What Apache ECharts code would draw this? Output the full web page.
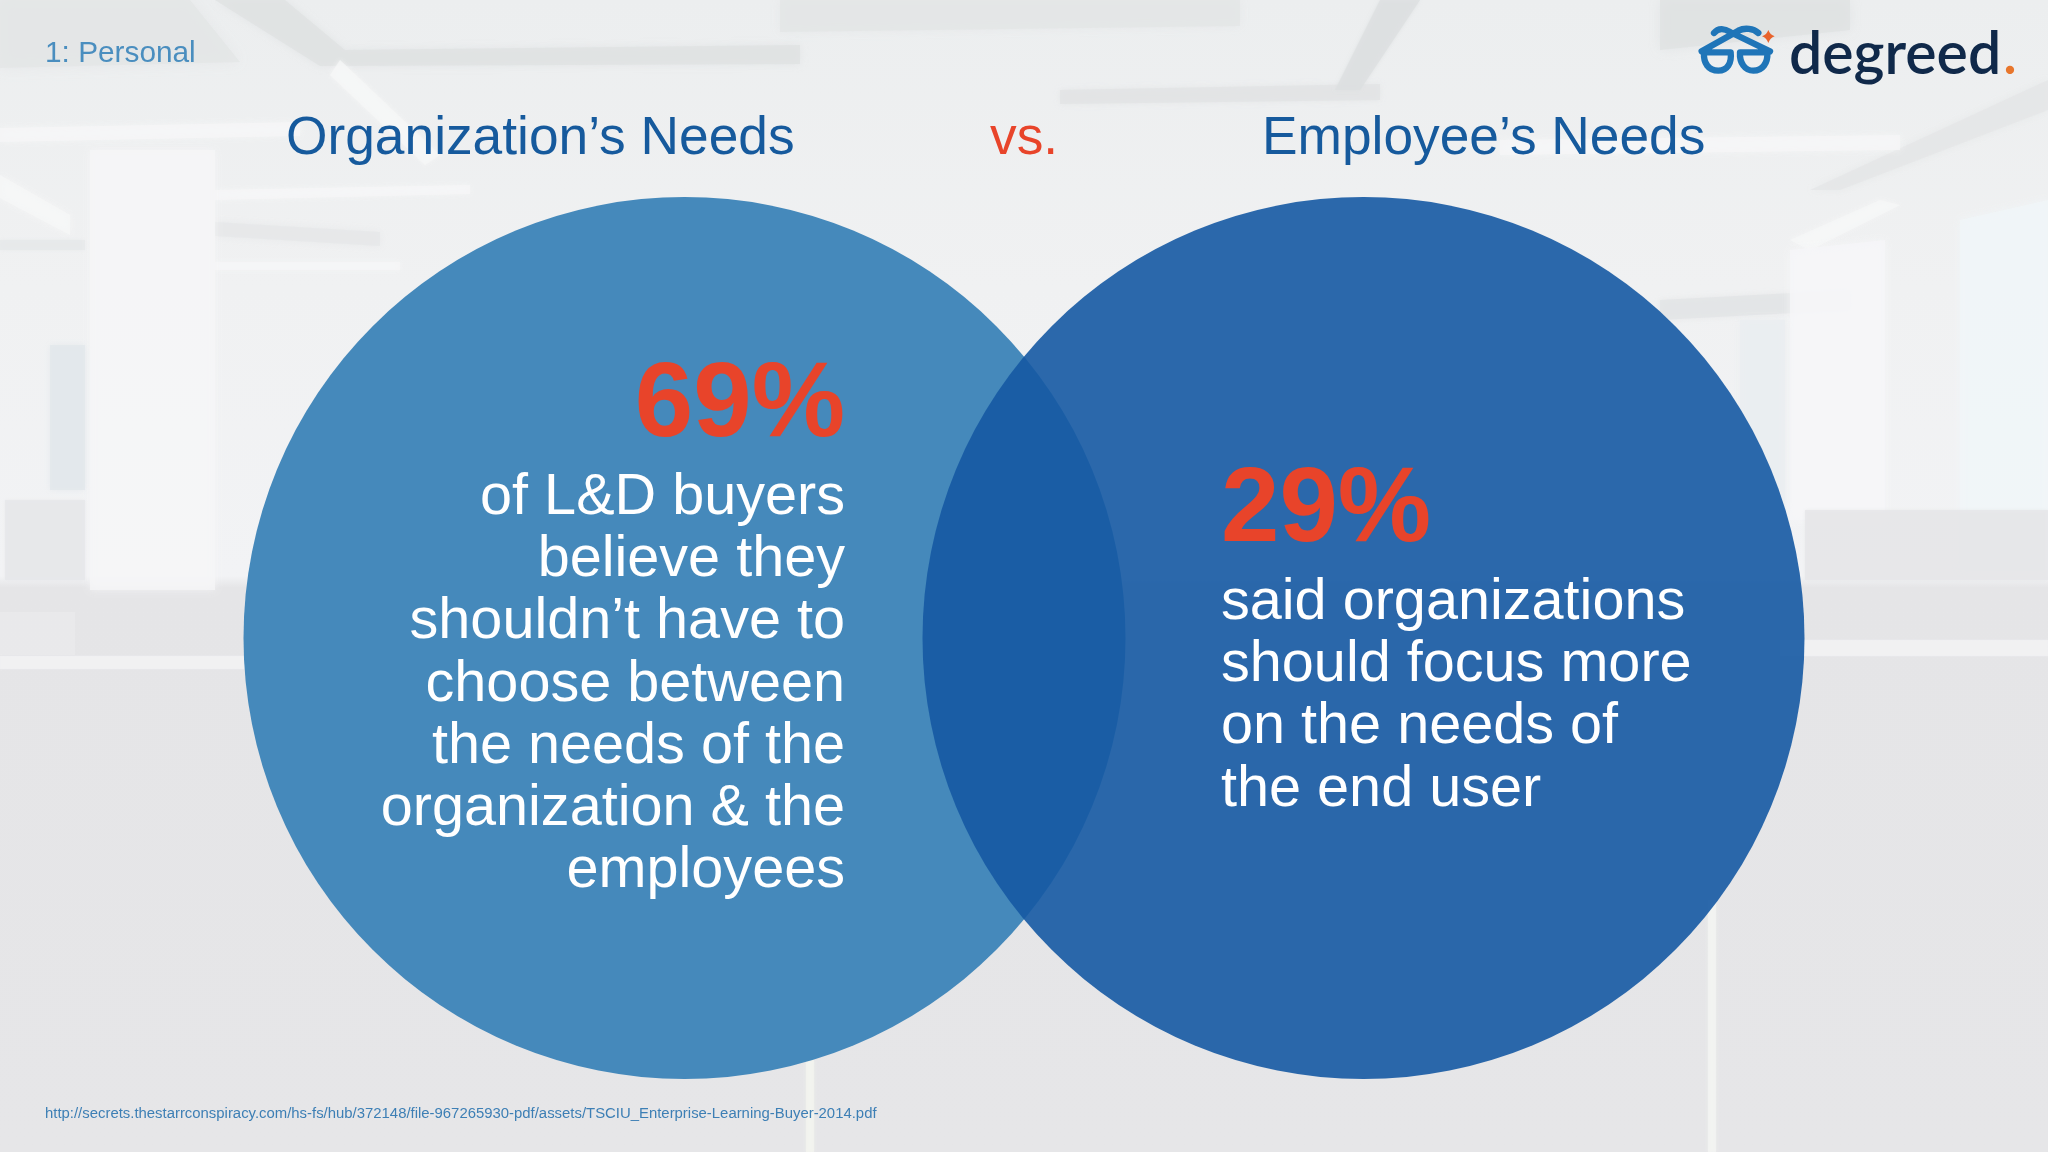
<!DOCTYPE html>
<html>
<head>
    <meta charset="utf-8">
    <title>Organization's Needs vs. Employee's Needs</title>
    <script src="https://cdn.jsdelivr.net/npm/echarts@6/dist/echarts.min.js"></script>
    <style>
        html, body, #main {
            width: 100%;
            height: 100%;
            margin: 0;
            background: #e8e9ea;
        }
    </style>
</head>
<body>
    <div id="main"></div>
    <script type="text/javascript">
        // chart data
        var categories = ['Organization\u2019s Needs', 'Employee\u2019s Needs'];
        var percents = [69, 29];
        var bodyLines = [
            ['of L&D buyers', 'believe they', 'shouldn\u2019t have to', 'choose between', 'the needs of the', 'organization & the', 'employees'],
            ['said organizations', 'should focus more', 'on the needs of', 'the end user']
        ];
        var vsLabel = 'vs.';
        var sectionLabel = '1: Personal';
        var sourceUrl = 'http://secrets.thestarrconspiracy.com/hs-fs/hub/372148/file-967265930-pdf/assets/TSCIU_Enterprise-Learning-Buyer-2014.pdf';
        var brandName = 'degreed';

        var FONT = '"Liberation Sans", Arial, sans-serif';

        // the graphic component has no plain path type, so the logo gets its own shapes
        echarts.graphic.registerShape('logoGlasses', echarts.graphic.extendShape({
            buildPath: function (ctx) {
                ctx.moveTo(42, 103);
                ctx.lineTo(122, 103);
                ctx.bezierCurveTo(126, 135, 112, 158, 85, 158);
                ctx.bezierCurveTo(55, 158, 40, 135, 42, 103);
                ctx.closePath();
                ctx.moveTo(150, 103);
                ctx.lineTo(232, 103);
                ctx.bezierCurveTo(234, 135, 218, 158, 190, 158);
                ctx.bezierCurveTo(165, 158, 148, 135, 150, 103);
                ctx.closePath();
                ctx.moveTo(35, 100);
                ctx.lineTo(145, 38);
                ctx.bezierCurveTo(165, 28, 190, 32, 205, 45);
                ctx.moveTo(72, 45);
                ctx.bezierCurveTo(85, 28, 105, 32, 120, 42);
                ctx.lineTo(240, 100);
            }
        }));
        echarts.graphic.registerShape('logoSpark', echarts.graphic.extendShape({
            buildPath: function (ctx) {
                ctx.moveTo(235, 36);
                ctx.quadraticCurveTo(240, 50, 254, 55);
                ctx.quadraticCurveTo(240, 60, 235, 75);
                ctx.quadraticCurveTo(230, 60, 216, 55);
                ctx.quadraticCurveTo(230, 50, 235, 36);
                ctx.closePath();
            }
        }));

        var myChart = echarts.init(document.getElementById('main'));

        // soft shape for the washed out office photo behind the chart
        function patch(points, color, blur) {
            return {
                type: 'polygon',
                silent: true,
                z: -5,
                shape: { points: points },
                style: { fill: color, opacity: 0.75, shadowBlur: blur === undefined ? 8 : blur, shadowColor: color }
            };
        }

        var backdrop = [
            {
                type: 'rect', silent: true, z: -6,
                shape: { x: 0, y: 0, width: 2048, height: 1152 },
                style: {
                    fill: new echarts.graphic.LinearGradient(0, 0, 0, 1, [
                        { offset: 0, color: '#eceeef' },
                        { offset: 0.25, color: '#f0f1f2' },
                        { offset: 0.5, color: '#f2f3f5' },
                        { offset: 0.51, color: '#e5e5e7' },
                        { offset: 1, color: '#e6e6e8' }
                    ])
                }
            },
            // ceiling beams
            patch([[215, 0], [285, 0], [345, 50], [800, 45], [800, 64], [320, 66]], '#dfe1e2'),
            patch([[0, 0], [190, 0], [240, 62], [0, 68]], '#e3e5e6', 14),
            patch([[780, 0], [1240, 0], [1240, 26], [780, 32]], '#e3e5e6', 10),
            patch([[1060, 90], [1380, 84], [1380, 100], [1060, 104]], '#e1e3e4', 6),
            patch([[1380, 0], [1420, 0], [1360, 90], [1335, 90]], '#dcdfe0', 4),
            patch([[1660, 0], [1850, 0], [1850, 30], [1660, 50]], '#dfe1e2', 12),
            patch([[1810, 190], [2048, 80], [2048, 110], [1840, 190]], '#e4e6e7', 8),
            patch([[0, 128], [300, 122], [300, 136], [0, 142]], '#f5f6f7', 6),
            patch([[0, 175], [70, 215], [70, 235], [0, 198]], '#f6f7f7', 6),
            patch([[340, 60], [440, 155], [425, 165], [330, 75]], '#f6f7f7', 4),
            patch([[215, 190], [470, 185], [470, 194], [215, 200]], '#f5f6f7', 5),
            patch([[215, 222], [380, 232], [380, 246], [215, 236]], '#e5e7e8', 8),
            patch([[215, 262], [400, 262], [400, 270], [215, 270]], '#f5f6f7', 4),
            patch([[0, 240], [85, 240], [85, 250], [0, 250]], '#e6e8e9', 5),
            patch([[1500, 140], [1900, 135], [1900, 150], [1500, 155]], '#f5f6f7', 6),
            patch([[1660, 300], [1850, 290], [1850, 310], [1660, 320]], '#e2e4e5', 6),
            patch([[1790, 240], [1880, 200], [1900, 205], [1810, 250]], '#f6f7f7', 5),
            // columns and windows
            patch([[90, 150], [215, 150], [215, 590], [90, 590]], '#f5f5f7', 8),
            patch([[50, 345], [85, 345], [85, 490], [50, 490]], '#e1e7eb', 6),
            patch([[5, 500], [85, 500], [85, 580], [5, 580]], '#e6e7e9', 3),
            patch([[1790, 250], [1885, 240], [1885, 520], [1790, 520]], '#f6f6f8', 8),
            patch([[1740, 320], [1785, 320], [1785, 510], [1740, 510]], '#e9edf0', 8),
            patch([[1960, 220], [2048, 200], [2048, 570], [1960, 570]], '#f0f5f8', 8),
            // desks and partitions
            patch([[0, 612], [75, 612], [75, 655], [0, 655]], '#e9e9eb', 1),
            patch([[1805, 510], [2048, 510], [2048, 580], [1805, 580]], '#e5e6e8', 3),
            patch([[0, 656], [250, 656], [250, 669], [0, 669]], '#f1f1f3', 2),
            patch([[1780, 640], [2048, 640], [2048, 656], [1780, 656]], '#f1f1f3', 2),
            // light streaks in the lower half
            patch([[806, 1060], [814, 1060], [814, 1152], [806, 1152]], '#f3f4ef', 3),
            patch([[1708, 900], [1716, 900], [1716, 1152], [1708, 1152]], '#f3f4f2', 3)
        ];

        // logo, drawn at 3x and scaled down
        var logo = {
            type: 'group',
            x: 1690,
            y: 18,
            scaleX: 1 / 3,
            scaleY: 1 / 3,
            silent: true,
            children: [
                {
                    type: 'logoGlasses',
                    style: { fill: 'none', stroke: '#1f75b8', lineWidth: 19, lineCap: 'round', lineJoin: 'round' }
                },
                {
                    type: 'logoSpark',
                    style: { fill: '#e8632c' }
                }
            ]
        };

        function label(text, x, y, size, color, extra) {
            var style = { text: text, x: x, y: y, fill: color, font: size + 'px ' + FONT, textVerticalAlign: 'middle', textBaseline: 'middle' };
            for (var k in extra) style[k] = extra[k];
            return { type: 'text', silent: true, z: 10, style: style };
        }

        var texts = [
            label(sectionLabel, 45, 53.5, 29.8, '#4a8ebf'),
            label(categories[0], 286, 139, 53.3, '#165a9d'),
            label(vsLabel, 990, 139, 53.3, '#e8442a'),
            label(categories[1], 1262, 139, 53.3, '#165a9d'),
            label(sourceUrl, 45, 1114, 14.9, '#3d7fb5'),
            label(brandName, 1789, 55, 59, '#10294a', { font: '600 59px Lato, sans-serif' }),
            label('.', 2003, 55, 59, '#e8762c', { font: '600 59px Lato, sans-serif' })
        ];

        var pointStyles = [
            { color: 'rgb(69,137,187)', pos: [601.5, 150], align: 'right' },
            { color: 'rgba(21,89,163,0.9)', pos: [298.5, 255], align: 'left' }
        ];

        option = {
            animation: false,
            grid: { left: 345, width: 1358, top: 138, height: 1000 },
            xAxis: { type: 'category', data: categories, show: false },
            yAxis: { type: 'value', min: -1, max: 1, show: false },
            graphic: backdrop.concat([logo], texts),
            series: [{
                type: 'scatter',
                symbol: 'circle',
                symbolSize: 882,
                silent: true,
                itemStyle: { opacity: 1 },
                data: categories.map(function (name, i) {
                    var s = pointStyles[i];
                    return {
                        value: [name, 0],
                        itemStyle: { color: s.color },
                        label: {
                            show: true,
                            position: s.pos,
                            align: s.align,
                            verticalAlign: 'top',
                            formatter: '{pct|' + percents[i] + '%}\n' + bodyLines[i].map(function (line) {
                                return '{body|' + line + '}';
                            }).join('\n'),
                            rich: {
                                pct: { fontFamily: FONT, fontWeight: 'bold', fontSize: 105, lineHeight: 120, color: '#e8442a', align: s.align },
                                body: { fontFamily: FONT, fontSize: 57.6, lineHeight: 62.2, color: '#ffffff', align: s.align }
                            }
                        }
                    };
                })
            }]
        };

        if (option && typeof option === "object") {
            myChart.setOption(option, true);
        }
    </script>
</body>
</html>
